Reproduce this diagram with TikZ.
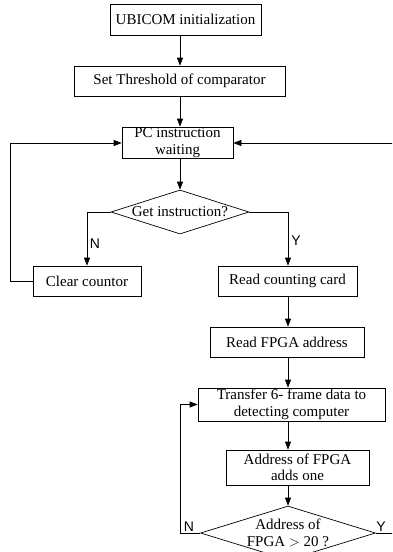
\documentclass[tikz,border=0pt]{standalone}
\usepackage{fontspec}
\setmainfont{Liberation Serif}
\newfontfamily\labelfont{Liberation Sans}
\usetikzlibrary{arrows.meta,shapes.geometric}
\begin{document}
\begin{tikzpicture}[x=1pt,y=-1pt,
  every node/.style={font=\fontsize{15pt}{16.5pt}\selectfont},
  box/.style={draw,line width=0.7pt,rectangle,inner sep=0pt,align=center},
  dia/.style={draw,line width=0.7pt,diamond,inner sep=0pt,aspect=3.1,align=center},
  flow/.style={line width=0.7pt,-{Triangle[length=8pt,width=6pt]}},
  yn/.style={font=\labelfont\fontsize{14pt}{16pt}\selectfont}]
\useasboundingbox (0,0) rectangle (392,552);
\clip (0,0) rectangle (392,552);
\node[box,minimum width=151pt,minimum height=31pt] (init) at (185.5,19.5) {UBICOM initialization};
\node[box,minimum width=211pt,minimum height=30pt] (thr) at (179.5,81) {Set Threshold of comparator};
\node[box,minimum width=111pt,minimum height=31pt] (pc) at (177.5,142.5) {PC instruction\\waiting};
\node[dia,minimum width=138pt,minimum height=44pt] (get) at (180,212) {Get instruction?};
\node[box,minimum width=108pt,minimum height=30pt] (clr) at (87,281) {Clear countor};
\node[box,minimum width=139pt,minimum height=30pt] (card) at (287.5,281) {Read counting card};
\node[box,minimum width=154pt,minimum height=30pt] (fpga) at (287,342) {Read FPGA address};
\node[box,minimum width=187pt,minimum height=33pt] (tr) at (291.5,404.5) {Transfer 6- frame data to\\detecting computer};
\node[box,minimum width=143pt,minimum height=35pt] (add) at (297.5,467.5) {Address of FPGA\\adds one};
\node[dia,minimum width=175pt,minimum height=44pt] (cmp) at (288,533) {Address of\\FPGA $>$ 20 ?};
\coordinate (L1) at (10,281);
\coordinate (L2) at (10,143);
\coordinate (R1) at (394,533);
\coordinate (R2) at (394,143);
\coordinate (B1) at (180,533);
\coordinate (B2) at (180,404.5);
\coordinate (NL) at (87,212);
\coordinate (YR) at (288,212);
\draw[flow] (init.south -| get) -- (thr.north -| get);
\draw[flow] (thr.south -| get) -- (pc.north -| get);
\draw[flow] (pc.south -| get) -- (get.north);
\draw[flow] (get.west) -- (NL) -- (clr.north);
\draw[flow] (get.east) -- (YR) -- (card.north -| YR);
\draw[flow] (card.south -| cmp) -- (fpga.north -| cmp);
\draw[flow] (fpga.south -| cmp) -- (tr.north -| cmp);
\draw[flow] (tr.south -| cmp) -- (add.north -| cmp);
\draw[flow] (add.south -| cmp) -- (cmp.north);
\draw[flow] (clr.west) -- (L1) -- (L2) -- (pc.west |- L2);
\draw[flow] (cmp.east) -- (R1) -- (R2) -- (pc.east |- R2);
\draw[flow] (cmp.west) -- (B1) -- (B2) -- (tr.west);
\node[yn] (n1) at (95,244) {N};
\node[yn] (y1) at (296,241) {Y};
\node[yn] (n2) at (189,527) {N};
\node[yn] (y2) at (381,527) {Y};
\end{tikzpicture}
\end{document}
